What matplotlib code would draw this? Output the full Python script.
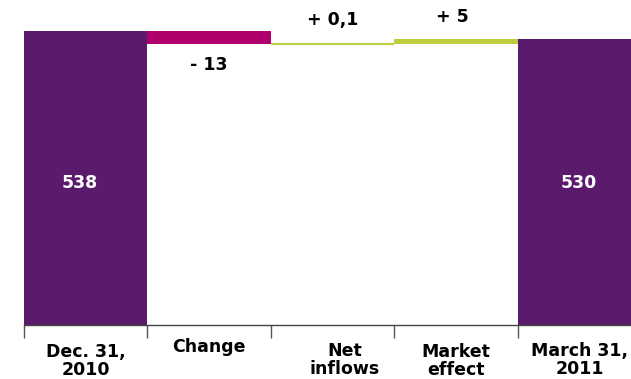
import numpy as np
import matplotlib
matplotlib.use("Agg")
import matplotlib.pyplot as plt
from matplotlib.transforms import blended_transform_factory

# waterfall data (millions)
categories = ["Dec. 31,\n2010", "Change", "Net\ninflows", "Market\neffect", "March 31,\n2011"]
start_value = 538
change = -13
net_inflows = 0.1
market_effect = 5
end_value = 530
value_labels = ["538", "- 13", "+ 0,1", "+ 5", "530"]

purple = "#5a1b6d"
magenta = "#b0006b"
green = "#bfcd40"

fig = plt.figure(figsize=(6.31, 3.79), dpi=100)
ax = fig.add_axes([24 / 631, (379 - 325) / 379, 607 / 631, 325 / 379])

ymin = 244
x = np.arange(len(categories))

# bottoms / heights of each step
after_change = start_value + change
after_inflows = after_change + net_inflows
bottoms = [ymin, after_change, after_change, after_inflows, ymin]
heights = [start_value - ymin, -change, net_inflows, market_effect, end_value - ymin]
colors = [purple, magenta, green, green, purple]

ax.bar(x, heights, bottom=bottoms, width=1.0, color=colors, linewidth=0)
# net inflows is too small to see, draw its edge as a line
ax.hlines(after_change + net_inflows / 2, x[2] - 0.5, x[2] + 0.5, color=green, linewidth=1.5)

ax.set_xlim(-0.5, 4.415)
ax.set_ylim(ymin, 569)

for s in ["top", "right", "left"]:
    ax.spines[s].set_visible(False)
ax.spines["bottom"].set_color("#444444")
ax.spines["bottom"].set_linewidth(1.0)
ax.set_yticks([])
ax.set_xticks(np.arange(-0.5, 4.0, 1.0))
ax.set_xticklabels([])
ax.tick_params(axis="x", length=9, width=1.0, color="#555555", direction="out")

fnt = dict(fontsize=12.5, fontweight="bold", family="DejaVu Sans")

# value labels
ax.text(-0.05, 386, value_labels[0], color="white", ha="center", va="center", **fnt)
ax.text(1.0, 504, value_labels[1], color="black", ha="center", va="center", **fnt)
ax.text(2.0, 549, value_labels[2], color="black", ha="center", va="center", **fnt)
ax.text(2.97, 551.5, value_labels[3], color="black", ha="center", va="center", **fnt)
ax.text(3.99, 386, value_labels[4], color="white", ha="center", va="center", **fnt)

# category labels below axis
tr = blended_transform_factory(ax.transData, fig.transFigure)
label_y = [1 - 361 / 379, 1 - 347 / 379, 1 - 360 / 379, 1 - 361 / 379, 1 - 360 / 379]
label_dx = [0.0, 0.0, 0.1, 0.0, 0.0]
for i, lab in enumerate(categories):
    ax.text(x[i] + label_dx[i], label_y[i], lab, transform=tr, ha="center", va="center",
            linespacing=1.0, color="black", **fnt)

fig.savefig("out.png", dpi=100)
